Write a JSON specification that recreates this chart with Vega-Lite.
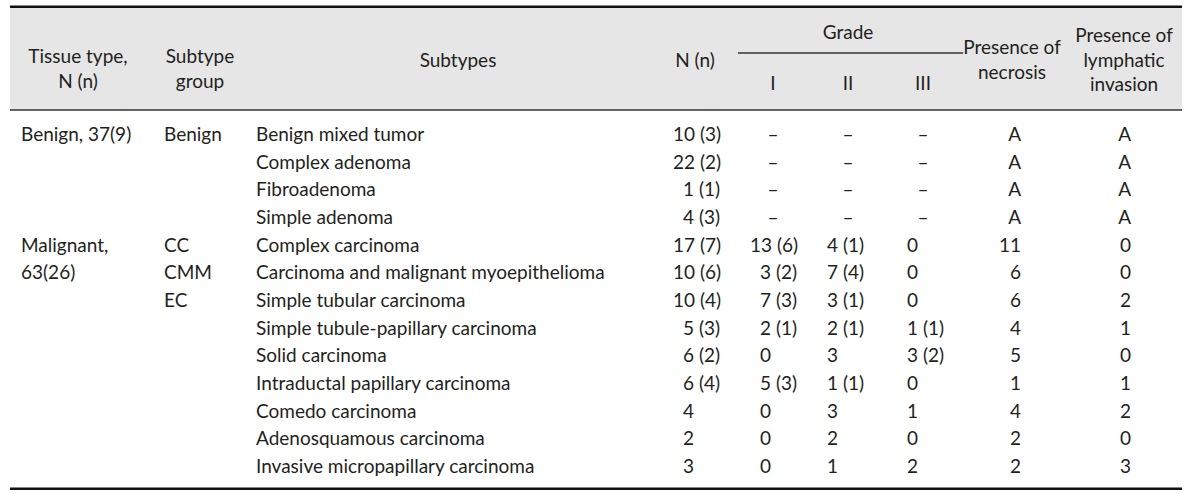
{
  "$schema": "https://vega.github.io/schema/vega-lite/v6.json",
  "width": 1200,
  "height": 498,
  "padding": 0,
  "autosize": {"type": "none"},
  "background": "white",
  "config": {
    "view": {"stroke": null},
    "text": {"font": "Lato", "fontSize": 19, "color": "#231f20"}
  },
  "datasets": {
    "cells": [
      {"r": 1, "c": 1, "t": "Benign, 37(9)"}, {"r": 1, "c": 2, "t": "Benign"}, {"r": 1, "c": 3, "t": "Benign mixed tumor"}, {"r": 1, "c": 4, "t": "10 (3)"}, {"r": 1, "c": 5, "t": "–"}, {"r": 1, "c": 6, "t": "–"}, {"r": 1, "c": 7, "t": "–"}, {"r": 1, "c": 8, "t": "A"}, {"r": 1, "c": 9, "t": "A"},
      {"r": 2, "c": 3, "t": "Complex adenoma"}, {"r": 2, "c": 4, "t": "22 (2)"}, {"r": 2, "c": 5, "t": "–"}, {"r": 2, "c": 6, "t": "–"}, {"r": 2, "c": 7, "t": "–"}, {"r": 2, "c": 8, "t": "A"}, {"r": 2, "c": 9, "t": "A"},
      {"r": 3, "c": 3, "t": "Fibroadenoma"}, {"r": 3, "c": 4, "t": "1 (1)"}, {"r": 3, "c": 5, "t": "–"}, {"r": 3, "c": 6, "t": "–"}, {"r": 3, "c": 7, "t": "–"}, {"r": 3, "c": 8, "t": "A"}, {"r": 3, "c": 9, "t": "A"},
      {"r": 4, "c": 3, "t": "Simple adenoma"}, {"r": 4, "c": 4, "t": "4 (3)"}, {"r": 4, "c": 5, "t": "–"}, {"r": 4, "c": 6, "t": "–"}, {"r": 4, "c": 7, "t": "–"}, {"r": 4, "c": 8, "t": "A"}, {"r": 4, "c": 9, "t": "A"},
      {"r": 5, "c": 1, "t": "Malignant,"}, {"r": 5, "c": 2, "t": "CC"}, {"r": 5, "c": 3, "t": "Complex carcinoma"}, {"r": 5, "c": 4, "t": "17 (7)"}, {"r": 5, "c": 5, "t": "13 (6)"}, {"r": 5, "c": 6, "t": "4 (1)"}, {"r": 5, "c": 7, "t": "0"}, {"r": 5, "c": 8, "t": "11"}, {"r": 5, "c": 9, "t": "0"},
      {"r": 6, "c": 1, "t": "63(26)"}, {"r": 6, "c": 2, "t": "CMM"}, {"r": 6, "c": 3, "t": "Carcinoma and malignant myoepithelioma"}, {"r": 6, "c": 4, "t": "10 (6)"}, {"r": 6, "c": 5, "t": "3 (2)"}, {"r": 6, "c": 6, "t": "7 (4)"}, {"r": 6, "c": 7, "t": "0"}, {"r": 6, "c": 8, "t": "6"}, {"r": 6, "c": 9, "t": "0"},
      {"r": 7, "c": 2, "t": "EC"}, {"r": 7, "c": 3, "t": "Simple tubular carcinoma"}, {"r": 7, "c": 4, "t": "10 (4)"}, {"r": 7, "c": 5, "t": "7 (3)"}, {"r": 7, "c": 6, "t": "3 (1)"}, {"r": 7, "c": 7, "t": "0"}, {"r": 7, "c": 8, "t": "6"}, {"r": 7, "c": 9, "t": "2"},
      {"r": 8, "c": 3, "t": "Simple tubule-papillary carcinoma"}, {"r": 8, "c": 4, "t": "5 (3)"}, {"r": 8, "c": 5, "t": "2 (1)"}, {"r": 8, "c": 6, "t": "2 (1)"}, {"r": 8, "c": 7, "t": "1 (1)"}, {"r": 8, "c": 8, "t": "4"}, {"r": 8, "c": 9, "t": "1"},
      {"r": 9, "c": 3, "t": "Solid carcinoma"}, {"r": 9, "c": 4, "t": "6 (2)"}, {"r": 9, "c": 5, "t": "0"}, {"r": 9, "c": 6, "t": "3"}, {"r": 9, "c": 7, "t": "3 (2)"}, {"r": 9, "c": 8, "t": "5"}, {"r": 9, "c": 9, "t": "0"},
      {"r": 10, "c": 3, "t": "Intraductal papillary carcinoma"}, {"r": 10, "c": 4, "t": "6 (4)"}, {"r": 10, "c": 5, "t": "5 (3)"}, {"r": 10, "c": 6, "t": "1 (1)"}, {"r": 10, "c": 7, "t": "0"}, {"r": 10, "c": 8, "t": "1"}, {"r": 10, "c": 9, "t": "1"},
      {"r": 11, "c": 3, "t": "Comedo carcinoma"}, {"r": 11, "c": 4, "t": "4"}, {"r": 11, "c": 5, "t": "0"}, {"r": 11, "c": 6, "t": "3"}, {"r": 11, "c": 7, "t": "1"}, {"r": 11, "c": 8, "t": "4"}, {"r": 11, "c": 9, "t": "2"},
      {"r": 12, "c": 3, "t": "Adenosquamous carcinoma"}, {"r": 12, "c": 4, "t": "2"}, {"r": 12, "c": 5, "t": "0"}, {"r": 12, "c": 6, "t": "2"}, {"r": 12, "c": 7, "t": "0"}, {"r": 12, "c": 8, "t": "2"}, {"r": 12, "c": 9, "t": "0"},
      {"r": 13, "c": 3, "t": "Invasive micropapillary carcinoma"}, {"r": 13, "c": 4, "t": "3"}, {"r": 13, "c": 5, "t": "0"}, {"r": 13, "c": 6, "t": "1"}, {"r": 13, "c": 7, "t": "2"}, {"r": 13, "c": 8, "t": "2"}, {"r": 13, "c": 9, "t": "3"}
    ],
    "head": [
      {"c": 1, "lv": -3, "t": "Tissue type,\nN (n)"},
      {"c": 2, "lv": -3, "t": "Subtype\ngroup"},
      {"c": 3, "lv": -2, "t": "Subtypes"},
      {"c": 4, "lv": -2, "t": "N (n)"},
      {"c": 6, "lv": -7, "t": "Grade"},
      {"c": 5, "lv": -1, "t": "I"},
      {"c": 6, "lv": -1, "t": "II"},
      {"c": 7, "lv": -1, "t": "III"},
      {"c": 8, "lv": -5, "t": "Presence of\nnecrosis"},
      {"c": 9, "lv": -6, "t": "Presence of\nlymphatic\ninvasion"}
    ]
  },
  "layer": [
    {
      "data": {"values": [{"a": 0}]},
      "mark": {"type": "rect", "color": "#e6e6e6"},
      "encoding": {
        "x": {"datum": 0, "type": "quantitative", "scale": {"domain": [0, 1, 2, 3, 4, 5, 6, 7, 8, 9, 10], "range": [10, 78, 200, 458, 695, 773, 848, 923, 1012, 1124, 1182], "nice": false, "zero": false}, "axis": null},
        "x2": {"datum": 10},
        "y": {"datum": -8, "type": "quantitative", "scale": {"domain": [-8, -7, -6, -5, -4, -3, -2, -1, 0, 1, 13, 14], "range": [6.7, 33, 36, 48, 53, 57, 61, 84, 110, 135, 467, 488.7], "nice": false, "zero": false}, "axis": null},
        "y2": {"datum": 0}
      }
    },
    {
      "data": {"values": [{"lv": -8}, {"lv": 14}]},
      "mark": {"type": "rule", "color": "#111111", "strokeWidth": 2.6},
      "encoding": {
        "x": {"datum": 0, "type": "quantitative", "scale": {"domain": [0, 1, 2, 3, 4, 5, 6, 7, 8, 9, 10], "range": [10, 78, 200, 458, 695, 773, 848, 923, 1012, 1124, 1182], "nice": false, "zero": false}, "axis": null},
        "x2": {"datum": 10},
        "y": {"field": "lv", "type": "quantitative", "scale": {"domain": [-8, -7, -6, -5, -4, -3, -2, -1, 0, 1, 13, 14], "range": [6.7, 33, 36, 48, 53, 57, 61, 84, 110, 135, 467, 488.7], "nice": false, "zero": false}, "axis": null}
      }
    },
    {
      "data": {"values": [{"lv": 0}]},
      "mark": {"type": "rule", "color": "#333333", "strokeWidth": 1.5},
      "encoding": {
        "x": {"datum": 0, "type": "quantitative", "scale": {"domain": [0, 1, 2, 3, 4, 5, 6, 7, 8, 9, 10], "range": [10, 78, 200, 458, 695, 773, 848, 923, 1012, 1124, 1182], "nice": false, "zero": false}, "axis": null},
        "x2": {"datum": 10},
        "y": {"field": "lv", "type": "quantitative", "scale": {"domain": [-8, -7, -6, -5, -4, -3, -2, -1, 0, 1, 13, 14], "range": [6.7, 33, 36, 48, 53, 57, 61, 84, 110, 135, 467, 488.7], "nice": false, "zero": false}, "axis": null}
      }
    },
    {
      "data": {"values": [{"lv": -4}]},
      "mark": {"type": "rule", "color": "#333333", "strokeWidth": 1.3},
      "encoding": {
        "x": {"datum": 4.55, "type": "quantitative", "scale": {"domain": [0, 1, 2, 3, 4, 5, 6, 7, 8, 9, 10], "range": [10, 78, 200, 458, 695, 773, 848, 923, 1012, 1124, 1182], "nice": false, "zero": false}, "axis": null},
        "x2": {"datum": 7.45},
        "y": {"field": "lv", "type": "quantitative", "scale": {"domain": [-8, -7, -6, -5, -4, -3, -2, -1, 0, 1, 13, 14], "range": [6.7, 33, 36, 48, 53, 57, 61, 84, 110, 135, 467, 488.7], "nice": false, "zero": false}, "axis": null}
      }
    },
    {
      "data": {"name": "head"},
      "mark": {"type": "text", "align": "center", "baseline": "middle", "lineBreak": "\n", "lineHeight": 24.5},
      "encoding": {
        "x": {"field": "c", "type": "quantitative", "scale": {"domain": [0, 1, 2, 3, 4, 5, 6, 7, 8, 9, 10], "range": [10, 78, 200, 458, 695, 773, 848, 923, 1012, 1124, 1182], "nice": false, "zero": false}, "axis": null},
        "y": {"field": "lv", "type": "quantitative", "scale": {"domain": [-8, -7, -6, -5, -4, -3, -2, -1, 0, 1, 13, 14], "range": [6.7, 33, 36, 48, 53, 57, 61, 84, 110, 135, 467, 488.7], "nice": false, "zero": false}, "axis": null},
        "text": {"field": "t"}
      }
    },
    {
      "data": {"name": "cells"},
      "transform": [{"filter": "datum.t == '–'"}],
      "mark": {"type": "text", "align": "center", "baseline": "middle"},
      "encoding": {
        "x": {"field": "c", "type": "quantitative", "scale": {"domain": [0, 1, 2, 3, 4, 5, 6, 7, 8, 9, 10], "range": [10, 78, 200, 458, 695, 773, 848, 923, 1012, 1124, 1182], "nice": false, "zero": false}, "axis": null},
        "y": {"field": "r", "type": "quantitative", "scale": {"domain": [-8, -7, -6, -5, -4, -3, -2, -1, 0, 1, 13, 14], "range": [6.7, 33, 36, 48, 53, 57, 61, 84, 110, 135, 467, 488.7], "nice": false, "zero": false}, "axis": null},
        "text": {"field": "t"}
      }
    },
    {
      "data": {"name": "cells"},
      "transform": [{"filter": "datum.c <= 3"}],
      "mark": {"type": "text", "align": "left", "baseline": "middle"},
      "encoding": {
        "x": {"field": "c", "type": "quantitative", "scale": {"domain": [1, 2, 3], "range": [21, 164, 256], "nice": false, "zero": false}, "axis": null},
        "y": {"field": "r", "type": "quantitative", "scale": {"domain": [-8, -7, -6, -5, -4, -3, -2, -1, 0, 1, 13, 14], "range": [6.7, 33, 36, 48, 53, 57, 61, 84, 110, 135, 467, 488.7], "nice": false, "zero": false}, "axis": null},
        "text": {"field": "t"}
      }
    },
    {
      "data": {"name": "cells"},
      "transform": [{"filter": "datum.c >= 4 && datum.c <= 7 && datum.t != '–' && !test(/^[0-9][0-9]/, datum.t)"}],
      "mark": {"type": "text", "align": "left", "baseline": "middle"},
      "encoding": {
        "x": {"field": "c", "type": "quantitative", "scale": {"domain": [4, 5, 6, 7], "range": [683, 760, 827, 907], "nice": false, "zero": false}, "axis": null},
        "y": {"field": "r", "type": "quantitative", "scale": {"domain": [-8, -7, -6, -5, -4, -3, -2, -1, 0, 1, 13, 14], "range": [6.7, 33, 36, 48, 53, 57, 61, 84, 110, 135, 467, 488.7], "nice": false, "zero": false}, "axis": null},
        "text": {"field": "t"}
      }
    },
    {
      "data": {"name": "cells"},
      "transform": [{"filter": "datum.c >= 4 && datum.c <= 7 && test(/^[0-9][0-9]/, datum.t)"}],
      "mark": {"type": "text", "align": "left", "baseline": "middle"},
      "encoding": {
        "x": {"field": "c", "type": "quantitative", "scale": {"domain": [4, 5], "range": [673, 750], "nice": false, "zero": false}, "axis": null},
        "y": {"field": "r", "type": "quantitative", "scale": {"domain": [-8, -7, -6, -5, -4, -3, -2, -1, 0, 1, 13, 14], "range": [6.7, 33, 36, 48, 53, 57, 61, 84, 110, 135, 467, 488.7], "nice": false, "zero": false}, "axis": null},
        "text": {"field": "t"}
      }
    },
    {
      "data": {"name": "cells"},
      "transform": [{"filter": "datum.c >= 8"}],
      "mark": {"type": "text", "align": "right", "baseline": "middle"},
      "encoding": {
        "x": {"field": "c", "type": "quantitative", "scale": {"domain": [8, 9], "range": [1021, 1131], "nice": false, "zero": false}, "axis": null},
        "y": {"field": "r", "type": "quantitative", "scale": {"domain": [-8, -7, -6, -5, -4, -3, -2, -1, 0, 1, 13, 14], "range": [6.7, 33, 36, 48, 53, 57, 61, 84, 110, 135, 467, 488.7], "nice": false, "zero": false}, "axis": null},
        "text": {"field": "t"}
      }
    }
  ],
  "resolve": {"scale": {"x": "independent"}}
}
